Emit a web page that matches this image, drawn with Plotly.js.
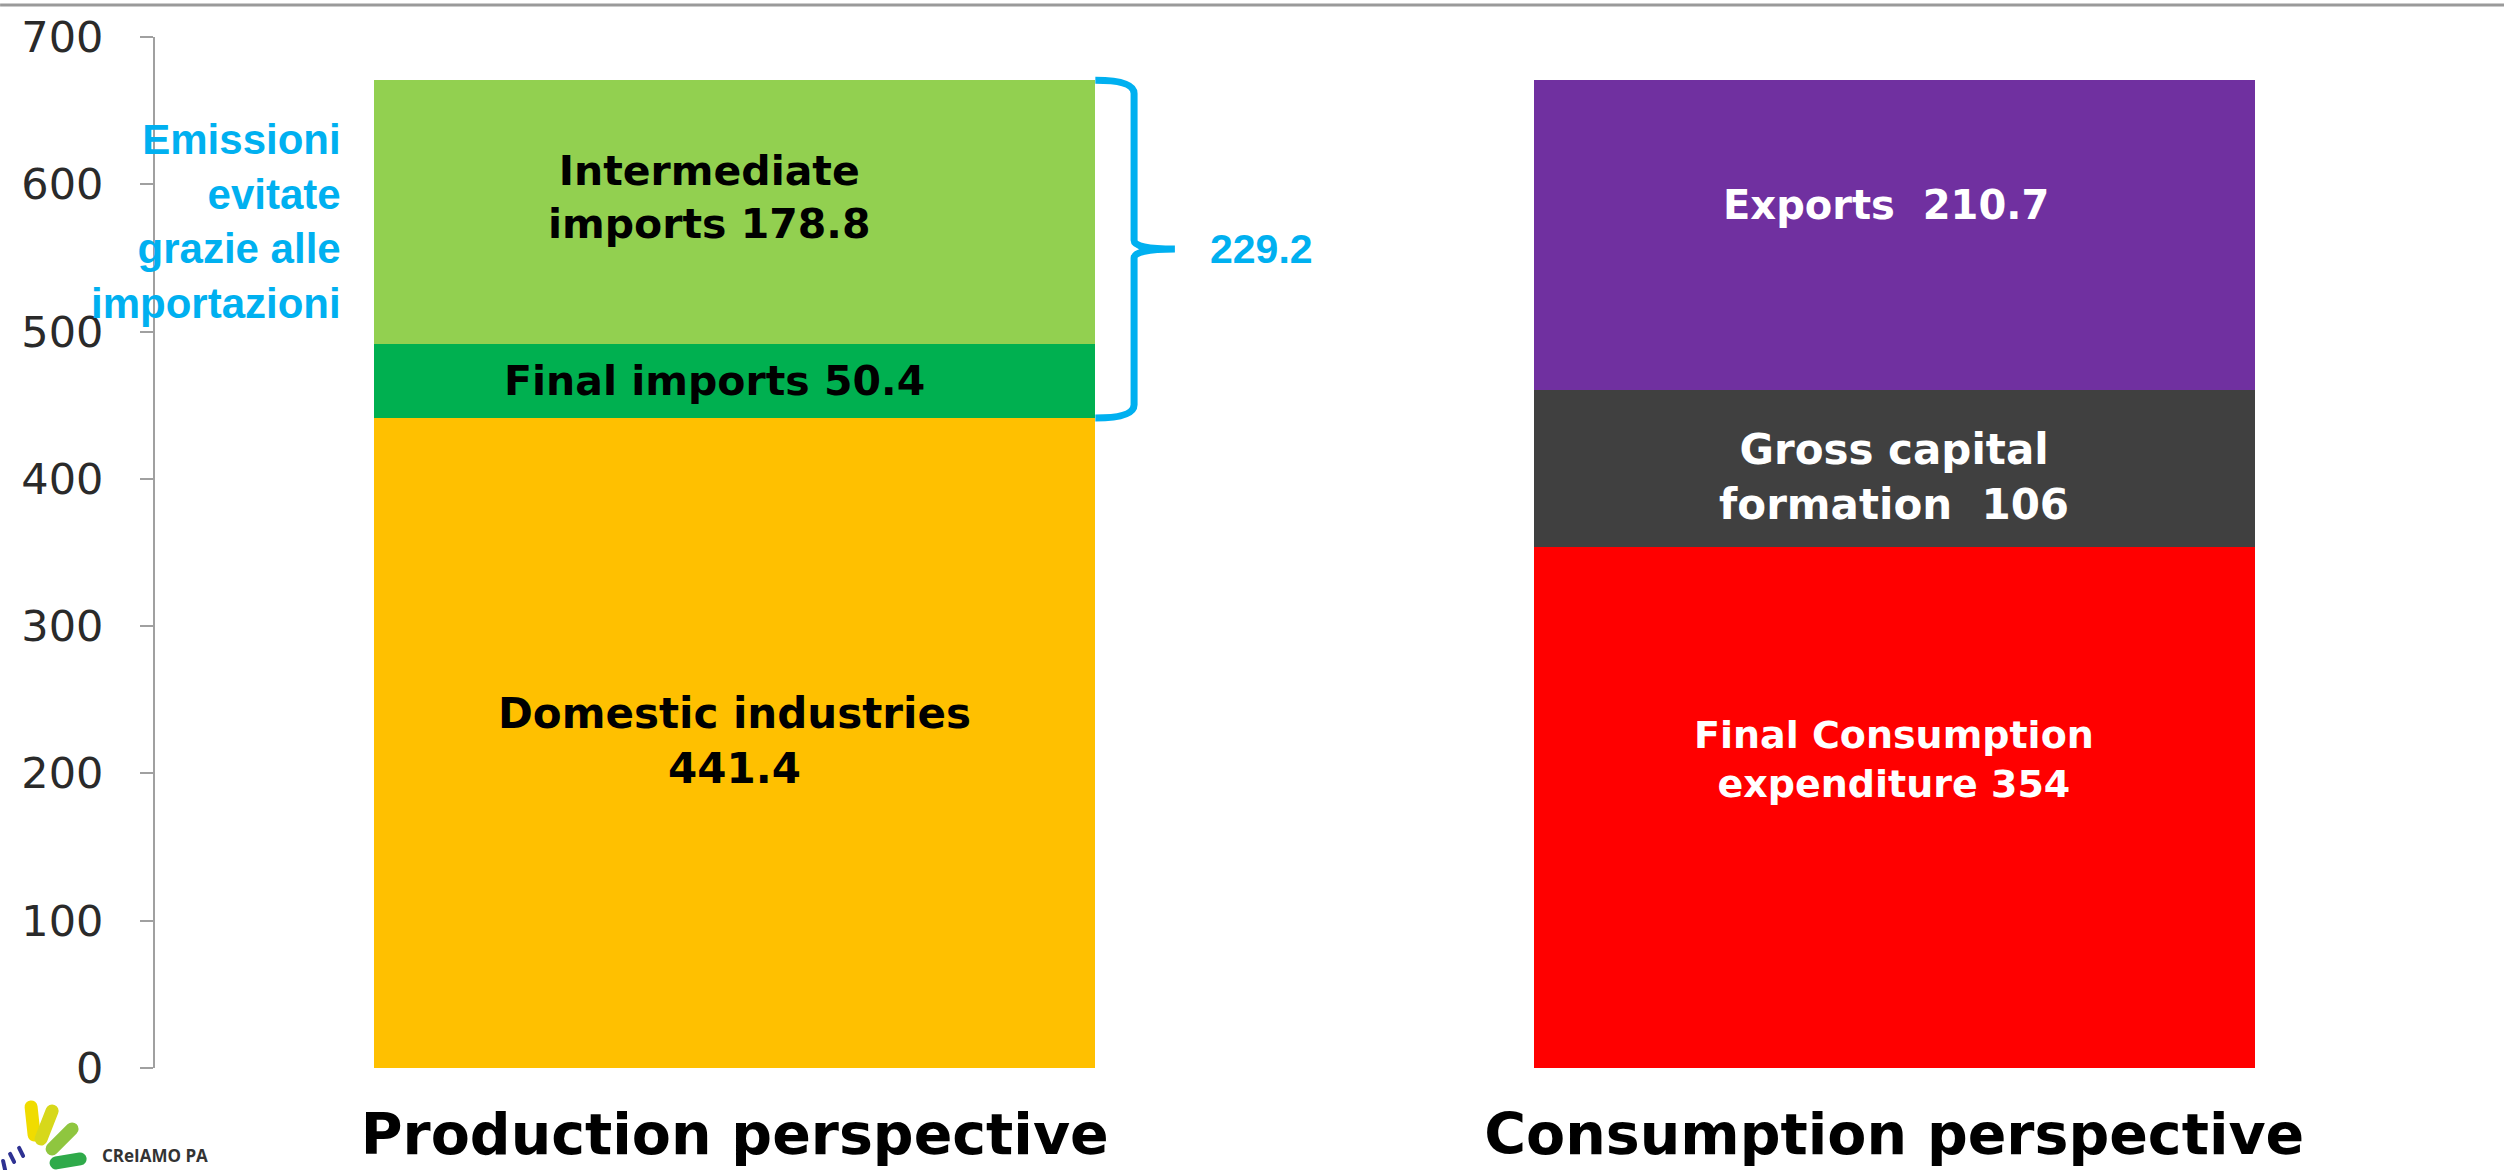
<!DOCTYPE html>
<html>
<head>
<meta charset="utf-8">
<script src="https://cdn.plot.ly/plotly-3.0.1.min.js"></script>
<style>html,body{margin:0;padding:0;background:#fff;}#chart{width:2504px;height:1170px;}</style>
</head>
<body>
<div id="chart"></div>
<script>
// ---- data ----
const categories = ['Production perspective', 'Consumption perspective'];
const prodNames = ['Domestic industries', 'Final imports', 'Intermediate imports'];
const prodValues = [441.4, 50.4, 178.8];
const consNames = ['Final Consumption expenditure', 'Gross capital formation', 'Exports'];
const consValues = [354, 106, 210.7];
const yTicks = [0, 100, 200, 300, 400, 500, 600, 700];
const bracketNote = 'Emissioni<br>evitate<br>grazie alle<br>importazioni';
const logoText = 'CReIAMO PA';

// ---- styles ----
const prodColors = ['#FFC000', '#00B050', '#92D050'];
const consColors = ['#FF0000', '#404040', '#7030A0'];
const prodLabelText = [
  prodNames[0] + '<br>' + prodValues[0],
  prodNames[1] + ' ' + prodValues[1],
  'Intermediate<br>imports ' + prodValues[2]
];
const consLabelText = [
  'Final Consumption<br>expenditure ' + consValues[0],
  'Gross capital<br>formation\u00A0\u00A0' + consValues[1],
  consNames[2] + '\u00A0\u00A0' + consValues[2]
];
const prodShift = [2, 0, 14];
const prodXShift = [0, -20, -26];
const consShift = [48, -8, 30];
const consXShift = [0, 0, -8];
const prodSize = [42, 41, 41];
const consSize = [38, 42, 40];
const cyan = '#00B0F0';
const bargap = 0.378;

// stacked traces: layer i holds segment i of each bar
const traces = [0, 1, 2].map(i => ({
  type: 'bar',
  x: categories,
  y: [prodValues[i], consValues[i]],
  name: prodNames[i] + ' / ' + consNames[i],
  marker: { color: [prodColors[i], consColors[i]], line: { width: 0 } },
  hoverinfo: 'x+y',
  showlegend: false
}));

// segment label annotations at segment centres
const annotations = [];
function addLabels(cat, vals, texts, color, shifts, xshifts, sizes) {
  let base = 0;
  vals.forEach((v, i) => {
    annotations.push({
      x: cat, y: base + v / 2, xref: 'x', yref: 'y',
      text: texts[i], showarrow: false, yshift: shifts[i], xshift: xshifts[i],
      font: { family: 'DejaVu Sans', size: sizes[i], color: color, weight: 'bold' },
      align: 'center', xanchor: 'center', yanchor: 'middle'
    });
    base += v;
  });
}
addLabels(categories[0], prodValues, prodLabelText, '#000000', prodShift, prodXShift, prodSize);
addLabels(categories[1], consValues, consLabelText, '#FFFFFF', consShift, consXShift, consSize);

// bracket over imports
const importsTotal = prodValues[1] + prodValues[2];
const yBot = prodValues[0];
const yTop = prodValues[0] + importsTotal;
const yMid = (yBot + yTop) / 2;
const xEdge = 0.25 + (1 - bargap) / 4;   // right edge of first bar (paper)
const xV = 0.4222, xTip = 0.4398, d = 9, dm = 6;
const bracePath =
  `M ${xEdge},${yTop} Q ${xV},${yTop} ${xV},${yTop - d} ` +
  `L ${xV},${yMid + dm} Q ${xV},${yMid} ${xTip},${yMid} ` +
  `Q ${xV},${yMid} ${xV},${yMid - dm} L ${xV},${yBot + d} ` +
  `Q ${xV},${yBot} ${xEdge},${yBot}`;

annotations.push({
  x: 0.454, y: yMid, xref: 'paper', yref: 'y',
  text: (Math.round(importsTotal * 10) / 10).toFixed(1), showarrow: false,
  xanchor: 'left', yanchor: 'middle',
  font: { family: 'Liberation Sans, Arial', size: 41, color: cyan, weight: 'bold' }
});
annotations.push({
  x: 0.0811, y: 575, xref: 'paper', yref: 'y',
  text: bracketNote, showarrow: false, xanchor: 'right', yanchor: 'middle', align: 'right',
  font: { family: 'Liberation Sans, Arial', size: 42, color: cyan, weight: 'bold' }
});
annotations.push({
  x: -0.0668 + 100 / 2319, y: -0.0844, xref: 'paper', yref: 'paper',
  text: logoText, showarrow: false, xanchor: 'left', yanchor: 'middle',
  font: { family: 'Open Sans', size: 17, color: '#333333', weight: 'bold' }
});

const logoSvg = `<svg xmlns="http://www.w3.org/2000/svg" width="90" height="72" viewBox="0 0 90 72">
<g stroke-linecap="round" fill="none">
<line x1="31" y1="8" x2="34" y2="36" stroke="#F0DC00" stroke-width="13"/>
<line x1="52" y1="12" x2="41" y2="40" stroke="#D7D81A" stroke-width="13"/>
<line x1="72" y1="30" x2="52" y2="50" stroke="#8FC63F" stroke-width="13"/>
<line x1="80" y1="60" x2="56" y2="64" stroke="#2FAA4A" stroke-width="13"/>
<line x1="3" y1="62" x2="5" y2="71" stroke="#2E3192" stroke-width="4"/>
<line x1="10" y1="55" x2="14" y2="63" stroke="#2E3192" stroke-width="4"/>
<line x1="19" y1="49" x2="23" y2="57" stroke="#2E3192" stroke-width="4"/>
</g></svg>`;

const layout = {
  width: 2504, height: 1170,
  margin: { l: 155, r: 30, t: 37, b: 102, pad: 0 },
  paper_bgcolor: '#FFFFFF', plot_bgcolor: '#FFFFFF',
  font: { family: 'DejaVu Sans', color: '#000000' },
  barmode: 'stack', bargap: bargap,
  showlegend: false,
  xaxis: {
    type: 'category', range: [-0.5, 1.5], fixedrange: true,
    showline: false, showgrid: false, zeroline: false,
    ticks: '', ticklabelstandoff: 28,
    tickfont: { family: 'DejaVu Sans', size: 57, color: '#000000', weight: 'bold' }
  },
  yaxis: {
    range: [0, 700], autorange: false, fixedrange: true,
    tickvals: yTicks, ticktext: yTicks.map(String),
    showline: true, linecolor: '#A0A0A0', linewidth: 2,
    ticks: 'outside', ticklen: 13, tickwidth: 2, tickcolor: '#A0A0A0',
    ticklabelstandoff: 28,
    showgrid: false, zeroline: false,
    tickfont: { family: 'DejaVu Sans', size: 43, color: '#2a2a2a' }
  },
  shapes: [
    { type: 'path', xref: 'paper', yref: 'y', path: bracePath,
      line: { color: cyan, width: 7 }, fillcolor: 'rgba(0,0,0,0)' },
    { type: 'line', xref: 'paper', yref: 'paper', x0: -0.0668, x1: 1.013, y0: 1.031, y1: 1.031,
      line: { color: '#9A9A9A', width: 3 } }
  ],
  images: [{
    source: 'data:image/svg+xml;charset=utf-8,' + encodeURIComponent(logoSvg),
    xref: 'paper', yref: 'paper', x: -0.0668, y: -0.030,
    sizex: 90 / 2319, sizey: 72 / 1031, xanchor: 'left', yanchor: 'top',
    sizing: 'stretch', layer: 'above'
  }],
  annotations: annotations
};

Plotly.newPlot('chart', traces, layout, { staticPlot: true, displayModeBar: false });
</script>
</body>
</html>
